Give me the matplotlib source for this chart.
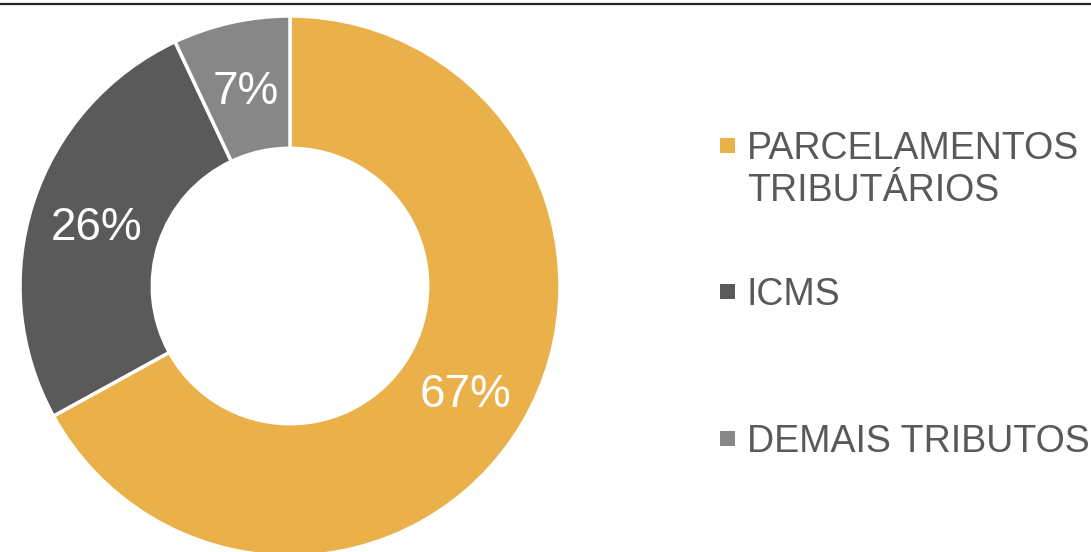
import matplotlib
matplotlib.use("Agg")
import matplotlib.pyplot as plt
from matplotlib.lines import Line2D
from matplotlib.patches import Rectangle

categories = ["PARCELAMENTOS\nTRIBUTÁRIOS", "ICMS", "DEMAIS TRIBUTOS"]
values = [67, 26, 7]
colors = ["#EAB04A", "#5A5A5A", "#878787"]

plt.rcParams['font.family'] = ['Liberation Sans', 'DejaVu Sans']

W, H = 1091, 552
fig = plt.figure(figsize=(W / 100, H / 100), dpi=100)

cx, cy, R = 290, 286, 270
ax = fig.add_axes([(cx - R) / W, (H - cy - R) / H, 2 * R / W, 2 * R / H])
wedges, texts, autotexts = ax.pie(
    values, colors=colors, startangle=90, counterclock=False, radius=1,
    autopct=lambda p: f"{p:.0f}%", pctdistance=0.755,
    wedgeprops=dict(width=0.49, edgecolor="white", linewidth=2.5),
    textprops=dict(color="white", fontsize=33))
for t in autotexts:
    t.set_va("center_baseline")
ax.set_xlim(-1, 1)
ax.set_ylim(-1, 1)
ax.set_aspect("equal")
ax.axis("off")
for p in wedges:
    p.set_clip_on(False)

# top rule
fig.add_artist(Line2D([0, 1], [1 - 3.5 / H, 1 - 3.5 / H], color="#222222", linewidth=1.6,
                      transform=fig.transFigure))

# legend (first-line baselines in pixels from top)
baselines = [159, 305, 452]
line_gap = 42
for lab, col, yb in zip(categories, colors, baselines):
    fig.add_artist(Rectangle((720 / W, (H - yb + 6) / H), 15 / W, 15 / H,
                             facecolor=col, edgecolor="none", transform=fig.transFigure))
    for i, line in enumerate(lab.split("\n")):
        fig.text(747 / W, (H - yb - i * line_gap) / H, line, color="#595959",
                 fontsize=27, ha="left", va="baseline")

fig.savefig("out.png", dpi=100)
